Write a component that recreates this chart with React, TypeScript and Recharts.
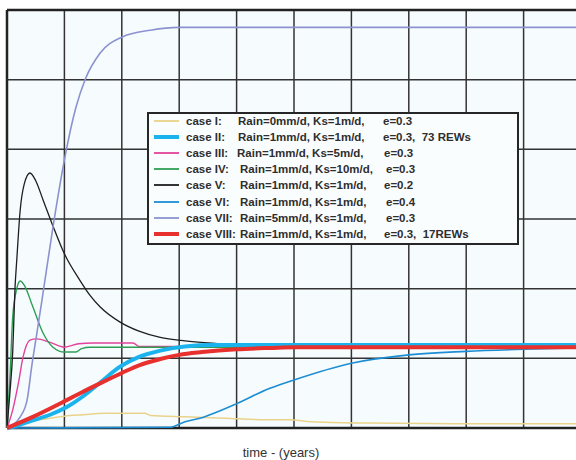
import { CartesianGrid, Line, LineChart, ReferenceLine, XAxis, YAxis } from 'recharts';

// [time (years), value] pairs
const caseI = [[0, 0], [0.1, 0.03], [0.23, 0.07], [0.5, 0.11], [0.75, 0.14], [1.0, 0.17], [1.33, 0.19], [1.7, 0.21], [2.4, 0.21], [2.5, 0.18], [3.1, 0.16], [3.8, 0.14], [4.5, 0.12], [4.9, 0.12], [5.3, 0.09], [6.3, 0.07], [7.8, 0.06], [10, 0.06]];
const caseII = [[0, 0], [0.2, 0.04], [0.45, 0.11], [0.75, 0.19], [1.04, 0.3], [1.35, 0.47], [1.62, 0.65], [1.97, 0.88], [2.3, 1.02], [2.67, 1.11], [3.1, 1.17], [3.6, 1.19], [10, 1.19]];
const caseIII = [[0, 0], [0.1, 0.26], [0.2, 0.65], [0.28, 1.02], [0.4, 1.26], [0.52, 1.28], [0.75, 1.23], [1.0, 1.16], [1.25, 1.21], [1.5, 1.22], [2.2, 1.22], [2.3, 1.17], [10, 1.17]];
const caseIV = [[0, 0], [0.05, 0.7], [0.1, 1.6], [0.17, 2.0], [0.23, 2.11], [0.3, 2.05], [0.45, 1.74], [0.63, 1.36], [0.8, 1.16], [1.0, 1.09], [1.2, 1.09], [1.3, 1.14], [1.45, 1.16], [10, 1.16]];
const caseV = [[0, 0], [0.05, 0.5], [0.1, 1.1], [0.14, 2.02], [0.17, 2.41], [0.23, 3.13], [0.3, 3.5], [0.4, 3.66], [0.5, 3.55], [0.63, 3.27], [0.8, 2.9], [1.0, 2.5], [1.27, 2.12], [1.45, 1.9], [1.62, 1.74], [1.97, 1.52], [2.3, 1.39], [2.67, 1.3], [3.1, 1.25], [3.5, 1.22], [3.9, 1.2], [4.5, 1.18], [10, 1.17]];
const caseVI = [[0, 0], [2.84, 0.01], [3.1, 0.09], [3.36, 0.14], [3.5, 0.18], [4.0, 0.35], [4.58, 0.57], [5.0, 0.69], [6.0, 0.93], [7.0, 1.05], [8.0, 1.1], [9.0, 1.13], [10, 1.15]];
const caseVII = [[0, 0], [0.1, 0.04], [0.23, 0.16], [0.35, 0.4], [0.43, 0.88], [0.52, 1.36], [0.61, 1.84], [0.8, 2.88], [1.0, 3.85], [1.2, 4.6], [1.36, 5.0], [1.62, 5.38], [2.0, 5.61], [2.5, 5.71], [3.0, 5.75], [10, 5.75]];
const caseVIII = [[0, 0], [0.45, 0.16], [1.04, 0.4], [1.3, 0.51], [1.62, 0.64], [2.0, 0.79], [2.3, 0.9], [2.67, 0.99], [3.0, 1.05], [3.4, 1.09], [4.0, 1.13], [4.6, 1.15], [5, 1.16], [10, 1.16]];

const xTicks = [0, 1, 2, 3, 4, 5, 6, 7, 8, 9, 10];
const yTicks = [0, 1, 2, 3, 4, 5, 6];

const caseNames = ['case I:', 'case II:', 'case III:', 'case IV:', 'case V:', 'case VI:', 'case VII:', 'case VIII:'];
const caseParams = [
  'Rain=0mm/d, Ks=1m/d,',
  'Rain=1mm/d, Ks=1m/d,',
  'Rain=1mm/d, Ks=5m/d,',
  'Rain=1mm/d, Ks=10m/d,',
  'Rain=1mm/d, Ks=1m/d,',
  'Rain=1mm/d, Ks=1m/d,',
  'Rain=5mm/d, Ks=1m/d,',
  'Rain=1mm/d, Ks=1m/d,',
];
const caseTail = ['e=0.3', 'e=0.3,  73 REWs', 'e=0.3', 'e=0.3', 'e=0.2', 'e=0.4', 'e=0.3', 'e=0.3,  17REWs'];

const toRows = (pts: number[][]) => pts.map(([t, v]) => ({ t, v }));

// drawing order: thin ones first, thick red last
const series = [
  { key: 'I', data: caseI, color: '#e9d28a', width: 1.5, legend: 0 },
  { key: 'VI', data: caseVI, color: '#1c8dd3', width: 1.6, legend: 5 },
  { key: 'III', data: caseIII, color: '#e2429b', width: 1.4, legend: 2 },
  { key: 'IV', data: caseIV, color: '#2e9e55', width: 1.4, legend: 3 },
  { key: 'V', data: caseV, color: '#1e1e1e', width: 1.3, legend: 4 },
  { key: 'VII', data: caseVII, color: '#8b92cf', width: 1.6, legend: 6 },
  { key: 'II', data: caseII, color: '#1bb3ee', width: 4, legend: 1 },
  { key: 'VIII', data: caseVIII, color: '#e8302f', width: 4, legend: 7 },
];

const legendOrder = [...series].sort((a, b) => a.legend - b.legend);

const textStyle = { position: 'absolute' as const, whiteSpace: 'pre' as const, top: 0 };

const App = () => (
  <div style={{ position: 'absolute', left: 0, top: 0, width: 576, height: 460, overflow: 'hidden', background: '#fff' }}>
    <LineChart width={600} height={460} margin={{ top: 10, right: 19, bottom: 0, left: 7 }}>
      <CartesianGrid horizontal={false} vertical={false} fill="#f6fcfe" fillOpacity={1} />
      <XAxis
        type="number"
        dataKey="t"
        domain={[0, 10]}
        ticks={xTicks}
        tick={false}
        tickLine={false}
        axisLine={false}
        height={32}
        allowDuplicatedCategory={false}
        label={{ value: 'time - (years)', position: 'insideBottom', offset: 3, dx: -13, fill: '#333', fontSize: 13, fontFamily: 'Liberation Sans, Arial, sans-serif' }}
      />
      <YAxis type="number" domain={[0, 6]} ticks={yTicks} tick={false} tickLine={false} axisLine={false} width={0} />
      {xTicks.map((t) => (
        <ReferenceLine key={`x${t}`} x={t} stroke={t === 0 ? '#222' : '#333'} strokeWidth={t === 0 ? 2.5 : 1.5} />
      ))}
      {yTicks.map((v) => (
        <ReferenceLine key={`y${v}`} y={v} stroke={v === 0 || v === 6 ? '#222' : '#333'} strokeWidth={v === 0 || v === 6 ? 2.4 : 1.5} />
      ))}
      {series.map((s) => (
        <Line
          key={s.key}
          data={toRows(s.data)}
          dataKey="v"
          type="monotone"
          stroke={s.color}
          strokeWidth={s.width}
          dot={false}
          activeDot={false}
          isAnimationActive={false}
        />
      ))}
    </LineChart>
    <div
      style={{
        position: 'absolute',
        left: 147,
        top: 112,
        width: 368,
        height: 129,
        border: '2px solid #262626',
        background: '#fafdfe',
        fontFamily: 'Liberation Sans, Arial, sans-serif',
        fontSize: 11.5,
        fontWeight: 700,
        color: '#2e2e2e',
      }}
    >
      {legendOrder.map((s, i) => (
        <div key={s.key} style={{ position: 'absolute', left: 0, top: -1 + i * 16.1, height: 16, width: '100%', lineHeight: '16px' }}>
          <svg width={30} height={16} style={{ position: 'absolute', left: 4, top: 0 }}>
            <line x1={1} x2={26} y1={8} y2={8} stroke={s.color} strokeWidth={s.width >= 4 ? 4 : 1.8} />
          </svg>
          <span style={{ ...textStyle, left: 37 }}>{caseNames[i]}</span>
          <span style={{ ...textStyle, left: i === 0 || i === 1 ? 89 : i === 2 ? 88 : 91 }}>{caseParams[i]}</span>
          <span style={{ ...textStyle, left: i === 0 || i === 1 ? 234 : i === 2 || i === 4 || i === 7 ? 235 : 237 }}>{caseTail[i]}</span>
        </div>
      ))}
    </div>
  </div>
);

export default App;
